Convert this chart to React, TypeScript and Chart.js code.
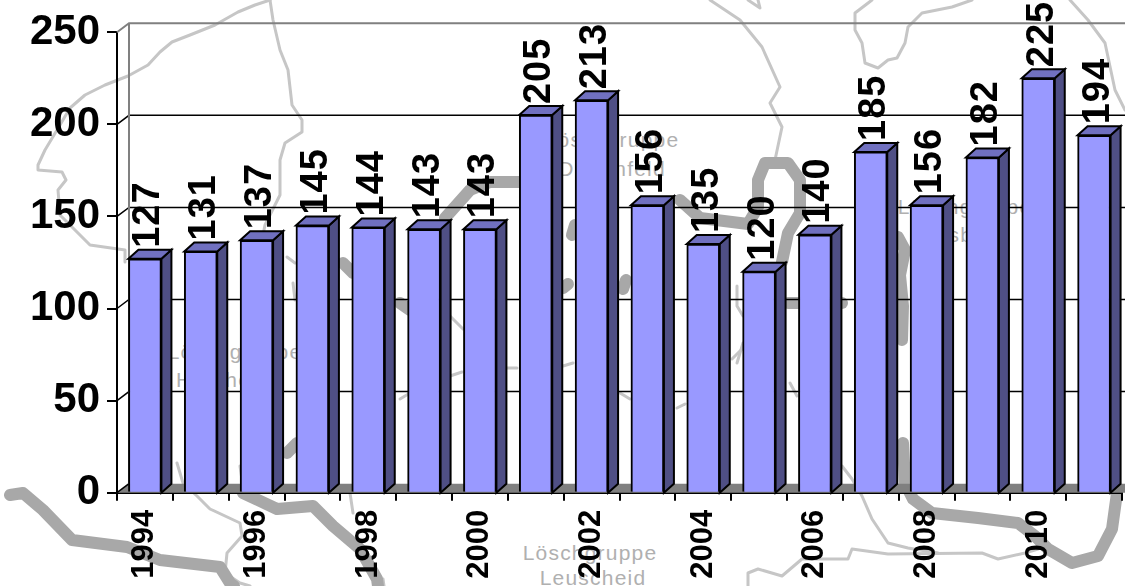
import React, { useEffect, useRef } from "react";
import { Chart, registerables } from "chart.js";

Chart.register(...registerables);

const years = ["1994","1995","1996","1997","1998","1999","2000","2001","2002","2003","2004","2005","2006","2007","2008","2009","2010","2011"];
const counts = [127,131,137,145,144,143,143,205,213,156,135,120,140,185,156,182,225,194];
const yTicks = [0,50,100,150,200,250];

const FONT = '"Liberation Sans", Arial, sans-serif';
const BAR_FILL = "#9999ff";
const BAR_TOP = "#7070c0";
const BAR_SIDE = "#4f4f85";
const FLOOR = "#808080";
const DX = 10;
const DY = 9;
const WALL_DX = 12;

// Decorative backdrop: the faint map printed behind the chart.
const thinRoads = [
  "270,0 255,5 238,12 215,25 190,35 172,42 160,52 148,65 128,76 105,85 85,95 70,108 60,125 45,150 38,165 38,170 62,172 66,180 58,190 60,215 75,230 90,245 125,250 125,262",
  "270,0 273,20 280,50 288,70 292,105 302,120 302,132 285,143 280,160 280,195 265,225 262,240",
  "287,257 295,263",
  "293,283 295,300",
  "710,0 740,20 762,47 780,87 770,103 782,127 775,160",
  "748,0 760,8 758,0",
  "972,0 952,7 922,13 908,27 905,43 897,58 888,60 878,68 865,63 862,43 855,30 855,13 872,0",
  "1070,0 1088,20 1105,43 1115,90 1125,110",
  "177,463 183,483 197,496 210,509 240,523 242,536 227,553 225,573 240,583 250,586",
  "350,493 353,513",
  "383,579 384,586",
  "450,316 463,329",
  "450,376 462,372",
  "400,399 410,393",
  "507,368 517,368",
  "563,366 573,363",
  "620,393 630,399",
  "677,408 685,404",
  "737,363 743,343",
  "790,383 797,396",
  "737,286 737,306 743,316",
  "732,359 742,349",
  "748,586 748,573 758,569 782,576 802,559 848,559 852,549 888,554 982,553 998,559 1025,553 1038,549",
  "842,466 852,479 862,496 872,519 888,543 908,548 938,553",
  "240,466 242,480",
];
const thickRoads = [
  "10,495 23,493 43,510 72,540 127,547 160,560 220,567 230,583 234,586",
  "243,493 277,509 313,506 333,526 360,549 377,579 378,586",
  "287,453 297,443",
  "343,263 353,273",
  "400,303 410,310",
  "445,218 470,190 490,182 520,182",
  "563,288 568,284",
  "623,289 626,280",
  "575,225 572,235",
  "680,200 700,218 748,224 758,207 758,180 765,163 788,163 800,180 800,213 788,233 782,262",
  "788,303 793,303 842,303",
  "898,237 905,250 900,275 903,306 902,340",
  "903,443 905,483 913,499 932,513 978,518 1018,523 1035,536 1048,549 1072,563 1098,556 1112,529 1117,493",
];

const mapLabels = [
  { x: 590, y: 560, text: "Löschgruppe" },
  { x: 593, y: 585, text: "Leuscheid" },
  { x: 612, y: 147, text: "Löschgruppe" },
  { x: 612, y: 176, text: "Dattenfeld" },
  { x: 235, y: 359, text: "Löschgruppe" },
  { x: 220, y: 387, text: "Herchen" },
  { x: 965, y: 214, text: "Löschgruppe" },
  { x: 965, y: 242, text: "Rosbach" },
];

const chart3d = {
  id: "chart3d",
  beforeDatasetsDraw(chart: any) {
    const { ctx, chartArea, scales } = chart;
    const y = scales.y;
    const { left, bottom } = chartArea;
    const w = chart.width;
    ctx.save();
    // floor
    ctx.fillStyle = FLOOR;
    ctx.beginPath();
    ctx.moveTo(left, bottom);
    ctx.lineTo(left + WALL_DX, bottom - DY);
    ctx.lineTo(w, bottom - DY);
    ctx.lineTo(w, bottom);
    ctx.closePath();
    ctx.fill();
    // wall gridlines and diagonal links
    for (const v of yTicks) {
      const py = y.getPixelForValue(v);
      const top = v === yTicks[yTicks.length - 1];
      ctx.strokeStyle = top ? FLOOR : "#000";
      ctx.lineWidth = top ? 2 : 1.5;
      ctx.beginPath();
      ctx.moveTo(left, py);
      ctx.lineTo(left + WALL_DX, py - DY);
      if (v !== 0) ctx.lineTo(w, py - DY);
      ctx.stroke();
    }
    // back wall edge
    ctx.strokeStyle = FLOOR;
    ctx.lineWidth = 2;
    ctx.beginPath();
    ctx.moveTo(left + WALL_DX, y.getPixelForValue(250) - DY);
    ctx.lineTo(left + WALL_DX, bottom - DY);
    ctx.stroke();
    ctx.restore();
  },
  afterDatasetsDraw(chart: any) {
    const { ctx, chartArea } = chart;
    const bars = chart.getDatasetMeta(0).data;
    ctx.save();
    ctx.strokeStyle = "#000";
    ctx.lineWidth = 2;
    ctx.lineJoin = "miter";
    bars.forEach((b: any) => {
      const half = b.width / 2;
      const l = b.x - half;
      const r = b.x + half;
      const t = b.y;
      const base = chartArea.bottom;
      ctx.fillStyle = BAR_SIDE;
      ctx.beginPath();
      ctx.moveTo(r, t);
      ctx.lineTo(r + DX, t - DY);
      ctx.lineTo(r + DX, base - DY);
      ctx.lineTo(r, base);
      ctx.closePath();
      ctx.fill();
      ctx.stroke();
      ctx.fillStyle = BAR_TOP;
      ctx.beginPath();
      ctx.moveTo(l, t);
      ctx.lineTo(l + DX, t - DY);
      ctx.lineTo(r + DX, t - DY);
      ctx.lineTo(r, t);
      ctx.closePath();
      ctx.fill();
      ctx.stroke();
    });
    // value labels
    ctx.fillStyle = "#000";
    ctx.font = `bold 38px ${FONT}`;
    (ctx as any).letterSpacing = "1px";
    ctx.textAlign = "left";
    ctx.textBaseline = "middle";
    bars.forEach((b: any, i: number) => {
      ctx.save();
      ctx.translate(b.x + 4, b.y - 11);
      ctx.rotate(-Math.PI / 2);
      ctx.fillText(String(counts[i]), 0, 0);
      ctx.restore();
    });
    ctx.restore();
  },
};

export default function App() {
  const ref = useRef<HTMLCanvasElement>(null);
  useEffect(() => {
    document.body.style.margin = "0";
    const chart = new Chart(ref.current as HTMLCanvasElement, {
      type: "bar",
      data: {
        labels: years,
        datasets: [
          {
            data: counts,
            backgroundColor: BAR_FILL,
            borderColor: "#000",
            borderWidth: 2,
            barThickness: 33,
          },
        ],
      },
      plugins: [chart3d],
      options: {
        animation: false,
        responsive: false,
        devicePixelRatio: 1,
        layout: { padding: { top: 30.7, right: 3, left: 0, bottom: 0 } },
        plugins: { legend: { display: false }, tooltip: { enabled: false } },
        scales: {
          x: {
            afterFit: (s: any) => {
              s.height = 586 - 492.7;
              s.paddingLeft = 0;
              s.paddingRight = 0;
            },
            grid: { display: true, drawOnChartArea: false, drawTicks: true, tickLength: 8, color: "#000", lineWidth: 2 },
            border: { display: true, color: "#000", width: 2 },
            ticks: {
              autoSkip: false,
              minRotation: 90,
              maxRotation: 90,
              padding: 9,
              color: "#000",
              font: { family: FONT, weight: "bold", size: 31 },
              callback: (_v: any, i: number) => (i % 2 === 0 ? years[i] : ""),
            },
          },
          y: {
            min: 0,
            max: 250,
            afterFit: (s: any) => { s.width = 117; },
            afterBuildTicks: (s: any) => { s.ticks = yTicks.map((value) => ({ value })); },
            grid: { display: true, drawOnChartArea: false, drawTicks: true, tickLength: 10, color: "#000", lineWidth: 2 },
            border: { display: true, color: "#000", width: 2 },
            ticks: {
              padding: 7,
              color: "#000",
              font: { family: FONT, weight: "bold", size: 42 },
            },
          },
        },
      },
    } as any);
    return () => chart.destroy();
  }, []);

  return (
    <div style={{ position: "absolute", left: 0, top: 0, width: 1125, height: 586, overflow: "hidden", background: "#fff" }}>
      <svg width={1125} height={586} style={{ position: "absolute", left: 0, top: 0 }}>
        {thinRoads.map((p, i) => (
          <polyline key={"t" + i} points={p} fill="none" stroke="#c6c6c6" strokeWidth={3} strokeLinejoin="round" strokeLinecap="round" />
        ))}
        {thickRoads.map((p, i) => (
          <polyline key={"k" + i} points={p} fill="none" stroke="#a8a8a8" strokeWidth={12} strokeLinejoin="round" strokeLinecap="round" />
        ))}
        {mapLabels.map((l, i) => (
          <text key={"l" + i} x={l.x} y={l.y} textAnchor="middle" fontFamily={FONT} fontSize={21} letterSpacing={1.2} fill="#b0b0b0">
            {l.text}
          </text>
        ))}
      </svg>
      <canvas ref={ref} width={1125} height={586} style={{ position: "absolute", left: 0, top: 0, display: "block" }} />
    </div>
  );
}
